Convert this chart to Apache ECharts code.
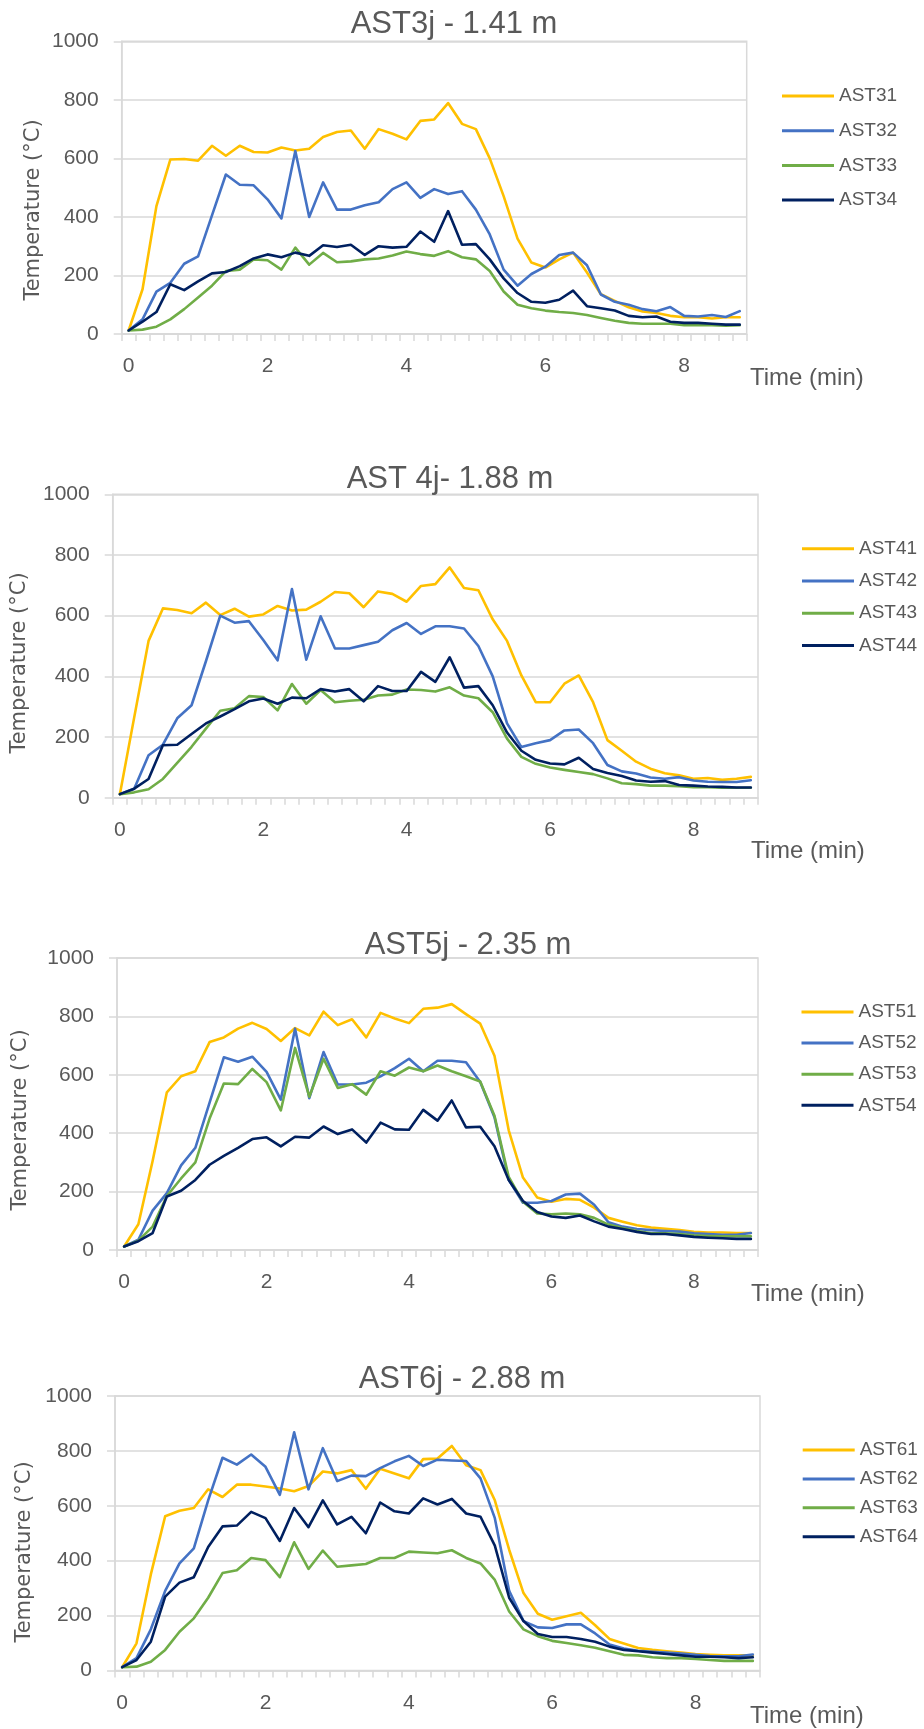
<!DOCTYPE html>
<html>
<head>
<meta charset="utf-8">
<script src="https://cdn.jsdelivr.net/npm/echarts@6/dist/echarts.min.js"></script>
<style>
html,body{margin:0;padding:0;background:#ffffff;}
#c{width:924px;height:1729px;}
</style>
</head>
<body>
<div id="c"></div>
<script>
// ---------- DATA ----------
const times = [0,0.2,0.4,0.6,0.8,1,1.2,1.4,1.6,1.8,2,2.2,2.4,2.6,2.8,3,3.2,3.4,3.6,3.8,4,4.2,4.4,4.6,4.8,5,5.2,5.4,5.6,5.8,6,6.2,6.4,6.6,6.8,7,7.2,7.4,7.6,7.8,8,8.2,8.4,8.6,8.8];

const chartTitles = ['AST3j - 1.41 m', 'AST 4j- 1.88 m', 'AST5j - 2.35 m', 'AST6j - 2.88 m'];
const xAxisTitle = 'Time (min)';
const yAxisTitle = 'Temperature (°C)';
const yMin = 0, yMax = 1000, yStep = 200;

const names3 = ['AST31','AST32','AST33','AST34'];
const ast31 = [12,153,437,596,598,592,643,609,643,622,620,637,627,633,673,690,695,633,700,684,665,728,733,789,718,700,600,471,326,244,227,255,278,210,136,113,91,77,72,62,57,57,53,57,57];
const ast32 = [12,50,145,175,240,265,405,545,510,508,460,395,625,400,518,425,425,440,450,495,518,465,495,478,488,425,340,220,165,205,230,270,278,235,135,110,100,85,78,92,62,60,65,58,78];
const ast33 = [12,15,25,50,85,125,165,215,220,255,252,220,295,237,277,245,248,255,258,268,282,273,267,283,262,255,215,145,100,88,80,75,72,65,55,45,38,35,35,35,30,30,30,28,30];
const ast34 = [12,42,75,170,150,180,207,212,232,258,272,262,278,267,303,297,305,270,300,295,298,350,315,420,305,307,255,190,140,110,107,117,148,95,88,80,62,57,60,42,38,38,35,32,32];

const names4 = ['AST41','AST42','AST43','AST44'];
const ast41 = [12,265,517,624,619,608,643,602,623,597,604,632,617,620,646,678,674,628,680,672,646,698,704,759,691,684,588,517,403,315,315,376,403,315,190,155,119,96,81,74,63,65,59,63,69];
const ast42 = [12,30,140,175,262,305,450,600,577,582,520,453,688,455,598,492,492,503,514,552,576,540,565,565,558,500,400,245,167,180,190,222,225,180,108,87,80,67,63,68,57,53,52,52,58];
const ast43 = [12,18,28,62,115,168,228,287,295,335,332,288,375,310,355,315,320,323,337,340,357,355,350,364,337,328,282,195,135,112,100,92,85,78,64,48,45,40,40,38,35,35,33,33,33];
const ast44 = [12,30,62,173,175,210,245,268,292,318,327,310,330,328,358,350,358,318,368,352,352,415,382,463,363,368,305,215,155,125,113,110,132,95,82,72,57,53,55,42,40,37,36,34,34];

const names5 = ['AST51','AST52','AST53','AST54'];
const ast51 = [12,88,305,540,595,612,712,728,758,778,757,716,760,735,816,770,790,728,812,793,777,826,830,842,808,775,665,410,248,180,165,175,172,145,110,97,85,77,73,68,62,60,60,58,58];
const ast52 = [12,35,135,195,290,350,505,660,645,662,610,515,758,520,678,567,567,573,595,623,655,612,648,648,643,575,455,240,162,162,168,190,193,155,95,80,72,68,65,63,57,55,52,52,58];
const ast53 = [12,32,80,185,245,300,450,570,568,620,575,478,692,525,655,555,568,532,612,597,625,612,632,612,595,577,460,250,165,125,122,125,122,110,87,75,65,57,57,55,50,48,47,47,47];
const ast54 = [12,30,58,183,203,240,292,322,350,380,386,355,388,385,423,397,413,368,436,413,412,480,443,512,420,422,355,240,168,130,115,110,118,98,80,72,62,55,55,50,45,42,40,38,38];

const names6 = ['AST61','AST62','AST63','AST64'];
const ast61 = [12,99,350,562,582,592,660,632,677,677,670,663,653,672,725,718,730,662,735,718,700,770,772,818,748,730,620,440,282,207,185,198,210,165,115,98,82,75,70,65,60,57,55,55,55];
const ast62 = [12,45,150,290,390,445,620,775,750,787,742,640,868,660,810,690,710,708,737,762,782,745,768,765,763,700,555,290,180,157,155,168,168,135,95,80,72,68,65,62,57,53,52,52,58];
const ast63 = [12,14,32,75,141,190,265,355,365,410,402,340,467,370,437,378,383,388,410,410,433,430,427,438,410,390,330,215,150,125,108,100,92,83,70,57,55,48,45,45,42,38,35,35,35];
const ast64 = [12,38,105,269,320,340,450,525,528,578,555,472,592,522,620,532,560,500,612,580,572,627,605,625,572,560,455,265,180,133,122,122,115,105,87,75,70,65,60,55,50,50,48,45,48];

const seriesNames = [names3, names4, names5, names6];
const seriesValues = [[ast31,ast32,ast33,ast34],[ast41,ast42,ast43,ast44],[ast51,ast52,ast53,ast54],[ast61,ast62,ast63,ast64]];

// ---------- STYLE / LAYOUT ----------
const colors = ['#FFC000','#4472C4','#70AD47','#002060'];
const txt = '#595959';
const gridCol = '#d9d9d9';
const layout = [
  {left:121.7, top:41.3,  width:625,   height:292.7, titleX:454, titleY:24,     legendX:782,   legendY:96,   legendStep:34.7, yTitleX:33.7, yTitleY:210,  xTitleX:750, xTitleY:378},
  {left:112.7, top:494.3, width:645.3, height:303.5, titleX:450, titleY:479,    legendX:802,   legendY:548.8,legendStep:32.2, yTitleX:20,   yTitleY:663,  xTitleX:751, xTitleY:851.4},
  {left:117,   top:958,   width:641,   height:292,   titleX:468, titleY:945.5,  legendX:801.5, legendY:1012, legendStep:31.1, yTitleX:21,   yTitleY:1120, xTitleX:751, xTitleY:1294.5},
  {left:115,   top:1396,  width:645,   height:274.5, titleX:462, titleY:1379.4, legendX:802.7, legendY:1450, legendStep:28.9, yTitleX:25,   yTitleY:1552, xTitleX:750, xTitleY:1716}
];

const option = {
  animation: false,
  backgroundColor: '#ffffff',
  title: layout.map((L, i) => ({
    text: chartTitles[i],
    left: L.titleX, top: L.titleY,
    textAlign: 'center', textVerticalAlign: 'middle',
    padding: 0,
    textStyle: {fontFamily: '"Liberation Sans", Arial, sans-serif', fontSize: 31, fontWeight: 'normal', color: txt}
  })),
  legend: layout.map((L, i) => ({
    data: seriesNames[i],
    orient: 'vertical',
    left: L.legendX, top: L.legendY - 10,
    padding: 0,
    itemWidth: 52, itemHeight: 3,
    itemGap: L.legendStep - 20,
    icon: 'rect',
    selectedMode: false,
    itemStyle: {borderWidth: 0},
    textStyle: {fontFamily: '"Liberation Sans", Arial, sans-serif', fontSize: 19, lineHeight: 20, color: txt}
  })),
  grid: layout.map(L => ({
    left: L.left, top: L.top, width: L.width, height: L.height,
    show: true, borderColor: gridCol, borderWidth: 1.5, backgroundColor: 'transparent',
    containLabel: false, outerBoundsMode: 'none'
  })),
  xAxis: layout.map((L, i) => ({
    type: 'category', gridIndex: i, data: times, boundaryGap: true,
    axisLine: {show: true, lineStyle: {color: gridCol, width: 1.5}},
    axisTick: {show: true, interval: 0, alignWithLabel: false, length: 7, inside: false, lineStyle: {color: gridCol, width: 1.5}},
    axisLabel: {show: true, interval: 9, margin: 22, color: txt, fontFamily: '"Liberation Sans", Arial, sans-serif', fontSize: 21, hideOverlap: false},
    splitLine: {show: false}
  })),
  yAxis: layout.map((L, i) => ({
    type: 'value', gridIndex: i, min: yMin, max: yMax, interval: yStep,
    axisLine: {show: true, lineStyle: {color: gridCol, width: 1.5}},
    axisTick: {show: true, length: 8, inside: false, lineStyle: {color: gridCol, width: 1.5}},
    axisLabel: {show: true, margin: 23, color: txt, fontFamily: '"Liberation Sans", Arial, sans-serif', fontSize: 21,
                formatter: v => String(v)},
    splitLine: {show: true, lineStyle: {color: gridCol, width: 1.5}}
  })),
  series: [],
  graphic: []
};

seriesValues.forEach((group, i) => {
  group.forEach((vals, k) => {
    option.series.push({
      type: 'line', name: seriesNames[i][k], xAxisIndex: i, yAxisIndex: i,
      data: vals, symbol: 'none', showSymbol: false, smooth: false,
      color: colors[k],
      lineStyle: {color: colors[k], width: 2.6, join: 'round', cap: 'round'},
      itemStyle: {color: colors[k]},
      emphasis: {disabled: true},
      z: 2 + k
    });
  });
});

layout.forEach((L, i) => {
  option.graphic.push({
    type: 'text', x: L.yTitleX, y: L.yTitleY, rotation: Math.PI / 2,
    style: {text: yAxisTitle, font: '21px "DejaVu Sans", sans-serif', fill: txt, align: 'center', verticalAlign: 'middle'}
  });
  option.graphic.push({
    type: 'text', x: L.xTitleX, y: L.xTitleY,
    style: {text: xAxisTitle, font: '24px "Liberation Sans", Arial, sans-serif', fill: txt, align: 'left', verticalAlign: 'middle'}
  });
});

const chart = echarts.init(document.getElementById('c'), null, {renderer: 'canvas', devicePixelRatio: 1});
chart.setOption(option);
</script>
</body>
</html>
